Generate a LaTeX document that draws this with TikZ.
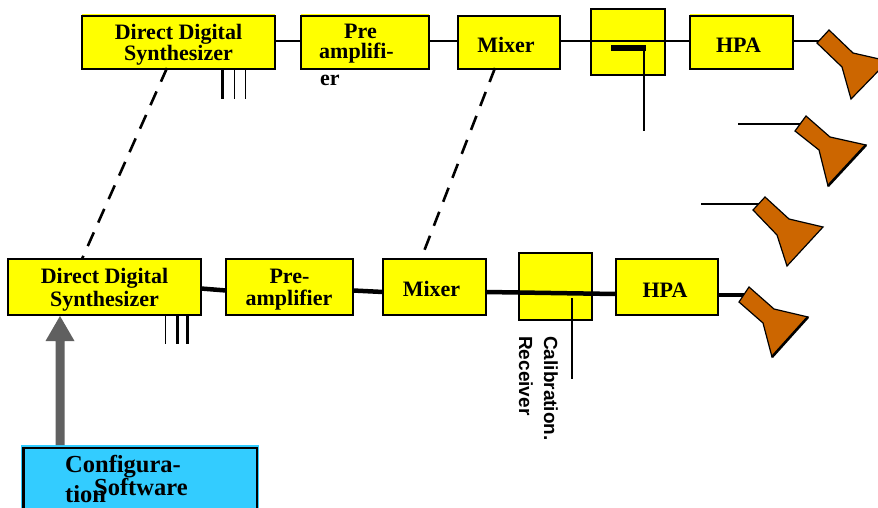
\documentclass[tikz,border=0pt]{standalone}
\usepackage{fontspec}
\setmainfont{Liberation Serif}
\setsansfont{Liberation Sans}
\definecolor{boxyellow}{RGB}{255,255,0}
\definecolor{hornorange}{RGB}{204,102,0}
\definecolor{cfgblue}{RGB}{51,204,255}
\definecolor{arrowgray}{RGB}{96,96,96}
\newcommand{\lowerstrut}{\rule{0pt}{20pt}}
\begin{document}
\begin{tikzpicture}[x=1pt,y=-1pt,
  blockbox/.style={draw=black,line width=2.2pt,fill=boxyellow,anchor=north west,inner sep=0pt,outer sep=0pt,font=\bfseries\fontsize{22}{20}\selectfont,align=center},
  wire/.style={line width=2.4pt,black},
  thickwire/.style={line width=4.5pt,black},
  hornshape/.style={fill=hornorange,draw=black,line width=1.2pt,line join=miter},
  hornedge/.style={black,line width=2.6pt},
  dashlink/.style={line width=2.6pt,dash pattern=on 15pt off 10.7pt},
  lbl/.style={font=\bfseries\fontsize{22}{20}\selectfont,anchor=base,inner sep=0pt},
  cfglbl/.style={font=\bfseries\fontsize{24.5}{25}\selectfont,anchor=base west,inner sep=0pt},
  sidelbl/.style={font=\sffamily\bfseries\fontsize{19}{19}\selectfont,rotate=-90,anchor=north west,inner sep=0pt}]
\useasboundingbox (0,0) rectangle (878,508);
% yellow fringes on the top row
\fill[boxyellow] (82,14) rectangle (275,17);
\fill[boxyellow] (301,14) rectangle (429,17);
\fill[boxyellow] (690,14) rectangle (790,17);
% top row
\node[blockbox,minimum width=193pt,minimum height=53pt] (dds1) at (82,16) {\lowerstrut Direct Digital\\Synthesizer};
\node[blockbox,minimum width=128pt,minimum height=53pt] (pre1) at (301,16) {};
\node[blockbox,minimum width=102pt,minimum height=53pt] (mix1) at (458,16) {\lowerstrut Mixer\hspace*{6pt}};
\node[blockbox,minimum width=74pt,minimum height=66pt,line width=1.8pt] (cal1) at (591,9) {};
\node[blockbox,minimum width=103pt,minimum height=53pt] (hpa1) at (690,16) {\lowerstrut HPA\hspace*{6pt}};
\node[lbl] (pretxt1) at (360.5,39) {Pre};
\node[lbl] (pretxt2) at (356.5,59) {amplifi-};
\node[lbl,anchor=base west] (ertxt) at (320,86) {er};
\coordinate (wy) at (0,41);
\coordinate (h1) at (822,41);
\draw[wire] (dds1.east |- wy) -- (pre1.west |- wy);
\draw[wire] (pre1.east |- wy) -- (mix1.west |- wy);
\draw[wire] (mix1.east |- wy) -- (hpa1.west |- wy);
\draw[wire] (hpa1.east |- wy) -- (h1);
% calibration tap top
\coordinate (t1a) at (611,48);
\coordinate (t1b) at (646,48);
\coordinate (t1c) at (644,131);
\coordinate (t1d) at (644,48);
\draw[line width=5.5pt] (t1a) -- (t1b);
\draw[line width=2.6pt] (t1d) -- (t1c);
% bus stubs top
\coordinate (a1) at (222.5,69); \coordinate (a1e) at (222.5,99);
\coordinate (a2) at (234.5,69); \coordinate (a2e) at (234.5,99);
\coordinate (a3) at (245.5,69); \coordinate (a3e) at (245.5,99);
\draw[line width=2.8pt] (a1) -- (a1e);
\draw[line width=.8pt] (a2) -- (a2e);
\draw[line width=.8pt] (a3) -- (a3e);
% bottom row
\node[blockbox,minimum width=193pt,minimum height=56pt] (dds2) at (8,259) {\lowerstrut Direct Digital\\[2pt]Synthesizer};
\node[blockbox,minimum width=127pt,minimum height=56pt] (pre2) at (226,259) {\lowerstrut Pre-\\[2pt]amplifier\hspace*{1pt}};
\node[blockbox,minimum width=103pt,minimum height=56pt] (mix2) at (383,259) {\lowerstrut Mixer\hspace*{6pt}};
\node[blockbox,minimum width=73pt,minimum height=67pt,line width=1.8pt] (cal2) at (519,253) {};
\node[blockbox,minimum width=102pt,minimum height=56pt] (hpa2) at (616,259) {\lowerstrut HPA\hspace*{4pt}};
\coordinate (w1) at (0,288.5);
\coordinate (w2) at (0,290.5);
\coordinate (w3) at (0,292);
\coordinate (w4) at (0,294);
\coordinate (w5) at (0,295);
\coordinate (h2) at (746,295);
\draw[thickwire] (dds2.east |- w1) -- (pre2.west |- w2);
\draw[thickwire] (pre2.east |- w2) -- (mix2.west |- w3);
\draw[thickwire] (mix2.east |- w3) -- (hpa2.west |- w4);
\draw[thickwire] (hpa2.east |- w5) -- (h2);
\coordinate (t2a) at (572,298);
\coordinate (t2b) at (572,379);
\draw[line width=2.6pt] (t2a) -- (t2b);
\coordinate (b1) at (165.5,316); \coordinate (b1e) at (165.5,344);
\coordinate (b2) at (177.5,316); \coordinate (b2e) at (177.5,344);
\coordinate (b3) at (187.5,316); \coordinate (b3e) at (187.5,344);
\draw[line width=.8pt] (b1) -- (b1e);
\draw[line width=2.6pt] (b2) -- (b2e);
\draw[line width=2.6pt] (b3) -- (b3e);
% dashed links
\coordinate (d1) at (167,68);
\coordinate (d2) at (82,259);
\draw[dashlink] (d1) -- (d2);
\coordinate (d3) at (495,68);
\coordinate (d4) at (421,259);
\draw[dashlink] (d3) -- (d4);
% rotated labels
\node[sidelbl] (calA) at (558,336) {Calibration.};
\node[sidelbl] (calB) at (533,336) {Receiver};
% config software
\fill[cfgblue] (21,445) rectangle (259,508);
\draw[line width=2.4pt] (23.5,508) -- (23.5,448) -- (257,448) -- (257,508);
\fill[arrowgray] (55.5,445) -- (55.5,341) -- (45.5,341) -- (60,316) -- (74.5,341) -- (64.5,341) -- (64.5,445) -- cycle;
\node[cfglbl] (c1) at (65,472) {Configura-};
\node[cfglbl] (c3) at (65,502) {tion};
\node[cfglbl] (c2) at (94,495) {Software};
% feeds
\coordinate (h3) at (738,124);
\coordinate (h3e) at (802,124);
\draw[wire] (h3) -- (h3e);
\coordinate (h4) at (701,204);
\coordinate (h4e) at (760,204);
\draw[wire] (h4) -- (h4e);
% horns
\draw[hornshape] (817,43) -- (829,30) -- (853,53) -- (888,61) -- (851,99) -- (842,67) -- cycle;
\draw[hornshape] (795,131) -- (806,116) -- (830,137) -- (866,145) -- (828,186) -- (819,150) -- cycle;
\draw[hornedge] (866,145) -- (828,186);
\draw[hornshape] (753,210) -- (765,197) -- (789,219) -- (823,227) -- (787,266) -- (777,235) -- cycle;
\draw[hornshape] (739,302) -- (749,287) -- (774,309) -- (808,317) -- (772,357) -- (763,323) -- cycle;
\draw[hornedge] (808,317) -- (772,357);
\end{tikzpicture}
\end{document}
